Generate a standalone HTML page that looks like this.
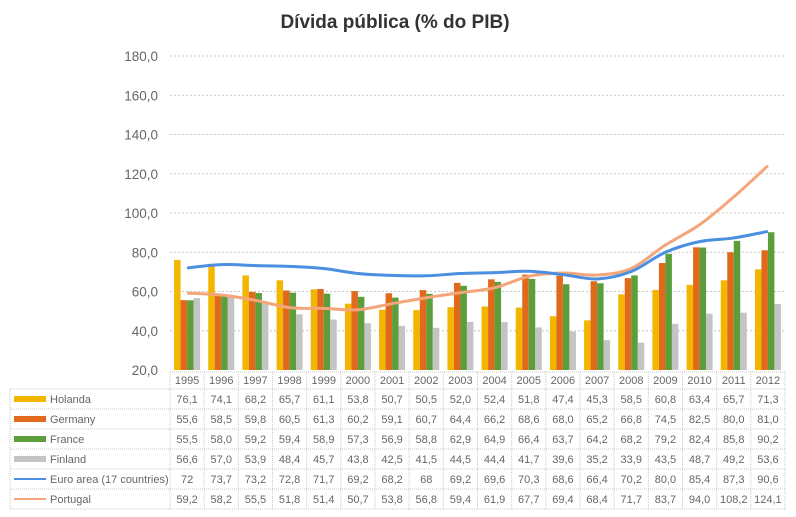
<!DOCTYPE html>
<html><head><meta charset="utf-8"><style>
html,body{margin:0;padding:0;background:#fff;}
svg{display:block;font-family:"Liberation Sans",sans-serif;}
</style></head><body>
<svg id="chart" width="796" height="517" viewBox="0 0 796 517">
<text x="395" y="28" text-anchor="middle" font-size="19" font-weight="bold" fill="#333">Dívida pública (% do PIB)</text>
<g id="grid"></g><g id="bars"></g><g id="lines"></g><g id="table"></g>
</svg>
<script>
const years=['1995','1996','1997','1998','1999','2000','2001','2002','2003','2004','2005','2006','2007','2008','2009','2010','2011','2012'];
const holanda=[76.1,74.1,68.2,65.7,61.1,53.8,50.7,50.5,52.0,52.4,51.8,47.4,45.3,58.5,60.8,63.4,65.7,71.3];
const germany=[55.6,58.5,59.8,60.5,61.3,60.2,59.1,60.7,64.4,66.2,68.6,68.0,65.2,66.8,74.5,82.5,80.0,81.0];
const france=[55.5,58.0,59.2,59.4,58.9,57.3,56.9,58.8,62.9,64.9,66.4,63.7,64.2,68.2,79.2,82.4,85.8,90.2];
const finland=[56.6,57.0,53.9,48.4,45.7,43.8,42.5,41.5,44.5,44.4,41.7,39.6,35.2,33.9,43.5,48.7,49.2,53.6];
const euro=[72,73.7,73.2,72.8,71.7,69.2,68.2,68,69.2,69.6,70.3,68.6,66.4,70.2,80.0,85.4,87.3,90.6];
const portugal=[59.2,58.2,55.5,51.8,51.4,50.7,53.8,56.8,59.4,61.9,67.7,69.4,68.4,71.7,83.7,94.0,108.2,124.1];
const yTicks=[20,40,60,80,100,120,140,160,180];
const NS='http://www.w3.org/2000/svg';
const x0=170,colW=615/18,yBase=370,yTop=56,vMin=20,vMax=180;
const y=v=>yBase-(v-vMin)/(vMax-vMin)*(yBase-yTop);
const xc=i=>x0+colW*(i+0.5);
const fmt=v=>v.toFixed(1).replace('.',',');
function mk(tag,attrs,parent,text){const e=document.createElementNS(NS,tag);for(const k in attrs)e.setAttribute(k,attrs[k]);if(text!==undefined)e.textContent=text;parent.appendChild(e);return e;}
const grid=document.getElementById('grid');
yTicks.forEach(t=>{
  if(t>20){const l=mk('line',{x1:x0,x2:785,y1:y(t),y2:y(t),stroke:'#c8c8c8','stroke-dasharray':'2,2'},grid);
  
  }
  const tx=mk('text',{x:158,y:y(t)+5,'text-anchor':'end','font-size':'13.5',fill:'#666'},grid,fmt(t));
  
  
});
const series=[{n:'Holanda',d:holanda,c:'#f2b600',k:'holanda'},{n:'Germany',d:germany,c:'#e0691c',k:'germany'},{n:'France',d:france,c:'#5c9e3c',k:'france'},{n:'Finland',d:finland,c:'#c4c4c4',k:'finland'}];
const bars=document.getElementById('bars');const bw=6.5;
series.forEach((s,si)=>{s.d.forEach((v,i)=>{
  const bx=xc(i)-13+si*bw;
  const r=mk('rect',{x:bx,y:y(v),width:bw,height:yBase-y(v),fill:s.c},bars);
  
  
});});
function smooth(d){const p=d.map((v,i)=>[xc(i),y(v)]);let s='M'+p[0][0]+','+p[0][1];
  for(let i=0;i<p.length-1;i++){const a=p[i-1]||p[i],b=p[i],c=p[i+1],e=p[i+2]||c;
  s+=' C'+(b[0]+(c[0]-a[0])/6)+','+(b[1]+(c[1]-a[1])/6)+' '+(c[0]-(e[0]-b[0])/6)+','+(c[1]-(e[1]-b[1])/6)+' '+c[0]+','+c[1];}return s;}
const lines=document.getElementById('lines');
const pl=mk('path',{d:smooth(portugal),fill:'none',stroke:'#f5a57a','stroke-width':3},lines);


const el=mk('path',{d:smooth(euro),fill:'none',stroke:'#4a8fe0','stroke-width':3},lines);


const tb=document.getElementById('table');
const rowsTop=389,rowH=20;
years.forEach((yr,i)=>{
  const t=mk('text',{x:xc(i),y:384,'text-anchor':'middle','font-size':'11',fill:'#666'},tb,yr);
  
  
});
const rows=[{n:'Holanda',d:holanda,c:'#f2b600',k:'holanda',t:'bar'},{n:'Germany',d:germany,c:'#e0691c',k:'germany',t:'bar'},{n:'France',d:france,c:'#5c9e3c',k:'france',t:'bar'},{n:'Finland',d:finland,c:'#c4c4c4',k:'finland',t:'bar'},{n:'Euro area (17 countries)',d:euro,c:'#4a8fe0',k:'euro-area',t:'line'},{n:'Portugal',d:portugal,c:'#f5a57a',k:'portugal',t:'line'}];
const gs={stroke:'#c8c8c8','stroke-dasharray':'1,1'};
mk('line',Object.assign({x1:x0,x2:785,y1:372,y2:372},gs),tb);
for(let c=0;c<=18;c++){mk('line',Object.assign({x1:x0+c*colW,x2:x0+c*colW,y1:372,y2:rowsTop+6*rowH},gs),tb);}
mk('line',Object.assign({x1:10,x2:10,y1:rowsTop,y2:rowsTop+6*rowH},gs),tb);
for(let r=0;r<=6;r++){mk('line',Object.assign({x1:10,x2:785,y1:rowsTop+r*rowH,y2:rowsTop+r*rowH},gs),tb);}
rows.forEach((r,ri)=>{
  const cy=rowsTop+ri*rowH+rowH/2;
  if(r.t==='bar'){const sw=mk('rect',{x:14,y:cy-3,width:32,height:6,fill:r.c},tb);
    
    }
  else{const sw=mk('line',{x1:14,x2:46,y1:cy,y2:cy,stroke:r.c,'stroke-width':2},tb);
    
    }
  const lt=mk('text',{x:50,y:cy+4,'font-size':'11',fill:'#666'},tb,r.n);
  
  
  r.d.forEach((v,i)=>{
    const s=(r.k==='euro-area'&&Number.isInteger(v)&&i<8)?String(v):fmt(v);
    const vt=mk('text',{x:xc(i),y:cy+4,'text-anchor':'middle','font-size':'11',fill:'#666'},tb,s);
    
    
  });
});
</script>
</body></html>
